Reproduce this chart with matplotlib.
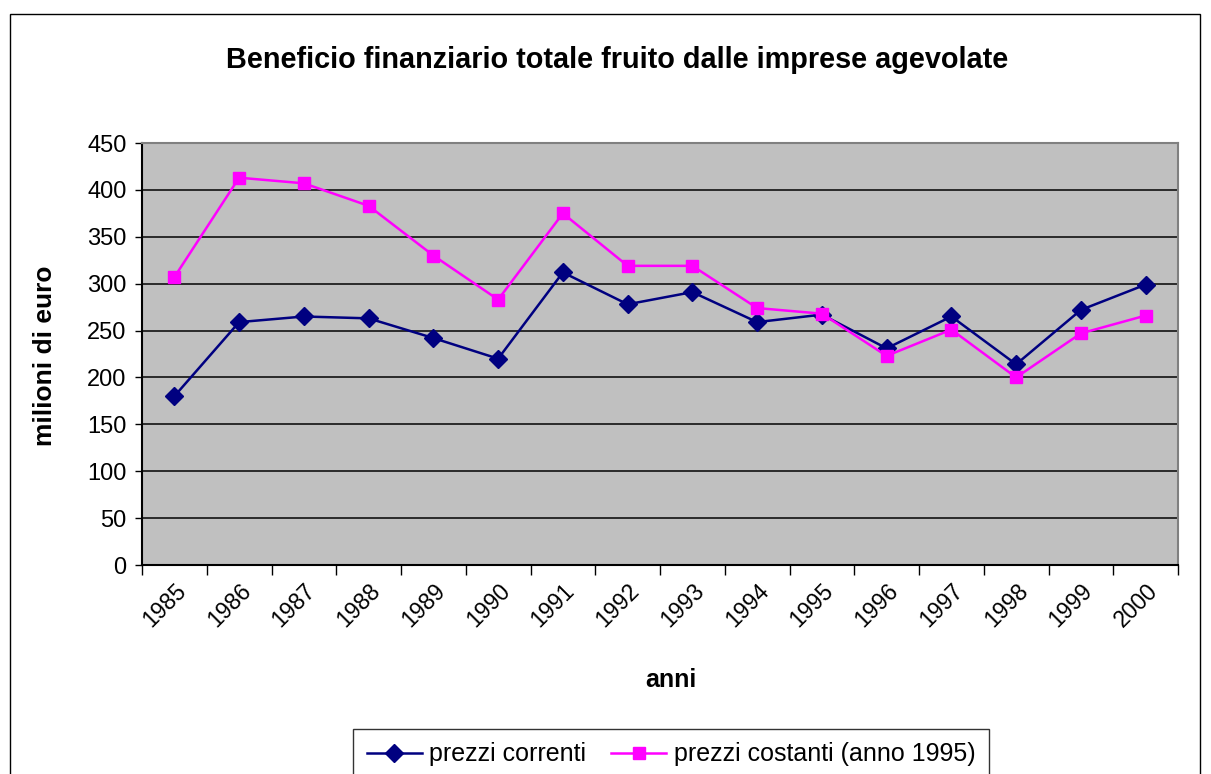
import numpy as np
import matplotlib
matplotlib.use('Agg')
import matplotlib.pyplot as plt
from matplotlib.patches import Rectangle

plt.rcParams['font.family'] = ['Liberation Sans', 'DejaVu Sans']

# data
anni = ['1985', '1986', '1987', '1988', '1989', '1990', '1991', '1992',
        '1993', '1994', '1995', '1996', '1997', '1998', '1999', '2000']
prezzi_correnti = [180, 259, 265, 263, 242, 220, 312, 278,
                   291, 259, 267, 231, 265, 214, 272, 299]
prezzi_costanti = [307, 413, 407, 383, 330, 283, 375, 319,
                   319, 274, 268, 223, 251, 200, 247, 266]
y_ticks = [0, 50, 100, 150, 200, 250, 300, 350, 400, 450]

fig = plt.figure(figsize=(12.11, 7.74), dpi=100)
ax = fig.add_axes([142/1211, 1 - 565/774, (1178 - 142)/1211, (565 - 143)/774])
ax.set_facecolor('#C0C0C0')

x = np.arange(len(anni))
ax.plot(x, prezzi_correnti, color='#000080', lw=1.8, marker='D', ms=9,
        label='prezzi correnti', zorder=3)
ax.plot(x, prezzi_costanti, color='#FF00FF', lw=1.8, marker='s', ms=9,
        label='prezzi costanti (anno 1995)', zorder=3)

ax.set_xlim(-0.5, len(anni) - 0.5)
ax.set_ylim(0, 450)
ax.set_yticks(y_ticks)
ax.set_yticklabels([str(v) for v in y_ticks], fontsize=17)
ax.yaxis.grid(True, color='#2a2a2a', lw=1.4)
ax.set_axisbelow(True)
ax.tick_params(axis='y', direction='out', length=5, width=1, pad=6)

# category labels at centres, ticks at boundaries
ax.set_xticks(x)
ax.set_xticklabels(anni, fontsize=16.5, rotation=45, ha='right',
                   rotation_mode='anchor')
ax.tick_params(axis='x', which='major', length=0, pad=10)
ax.set_xticks(np.arange(len(anni) + 1) - 0.5, minor=True)
ax.tick_params(axis='x', which='minor', direction='out', length=7, width=1)

for s in ['left', 'bottom']:
    ax.spines[s].set_color('black')
    ax.spines[s].set_linewidth(1.5)
for s in ['top', 'right']:
    ax.spines[s].set_color('#808080')
    ax.spines[s].set_linewidth(1.5)

fig.text(0.510, 1 - 60/774, 'Beneficio finanziario totale fruito dalle imprese agevolate',
         ha='center', va='center', fontsize=20.8, fontweight='bold')
fig.text(45/1211, 1 - 356/774, 'milioni di euro', rotation=90,
         ha='center', va='center', fontsize=19, fontweight='bold')
fig.text(671/1211, 1 - 680/774, 'anni', ha='center', va='center',
         fontsize=18, fontweight='bold')

leg = fig.legend(loc='upper center', bbox_to_anchor=(671/1211, 1 - 716/774),
                 ncol=2, fontsize=18, frameon=True, fancybox=False,
                 edgecolor='black', handlelength=2.2, columnspacing=1.0,
                 handletextpad=0.3, borderpad=0.55)
leg.get_frame().set_linewidth(1.0)

fig.patches.append(Rectangle((10/1211, -0.01), 1190/1211, (774 - 14)/774 + 0.01,
                             transform=fig.transFigure, fill=False,
                             edgecolor='black', lw=1.0))

fig.savefig('out.png', dpi=100)
